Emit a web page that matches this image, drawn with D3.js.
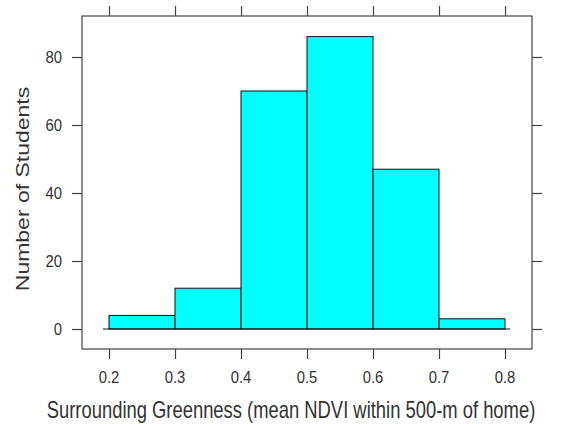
<!DOCTYPE html>
<html>
<head>
<meta charset="utf-8">
<script src="https://cdn.jsdelivr.net/npm/d3@7"></script>
<style>
  body { margin: 0; background: #fff; }
  svg text { font-family: "Liberation Sans", Arial, sans-serif; fill: #333; }
</style>
</head>
<body>
<svg id="chart" width="569" height="424"></svg>
<script>
// histogram bins and counts
var binStarts = [0.2, 0.3, 0.4, 0.5, 0.6, 0.7];
var binWidth = 0.1;
var counts = [4, 12, 70, 86, 47, 3];
var xTicks = [0.2, 0.3, 0.4, 0.5, 0.6, 0.7, 0.8];
var yTicks = [0, 20, 40, 60, 80];

var frame = {left: 82, top: 16, right: 532, bottom: 349};

var x = d3.scaleLinear().domain([0.2, 0.8]).range([109, 505]);
var y = d3.scaleLinear().domain([0, 80]).range([329, 57]);

var svg = d3.select("#chart");

// bars
svg.selectAll(".bar")
    .data(counts)
  .enter().append("rect")
    .attr("class", "bar")
    .attr("x", function(d, i) { return x(binStarts[i]); })
    .attr("y", function(d) { return y(d); })
    .attr("width", function(d, i) { return x(binStarts[i] + binWidth) - x(binStarts[i]); })
    .attr("height", function(d) { return y(0) - y(d); })
    .attr("fill", "#00ffff")
    .attr("stroke", "#111")
    .attr("stroke-width", 1);

// baseline under bars
svg.append("line")
    .attr("x1", x(0.2) - 6).attr("x2", x(0.8) + 5)
    .attr("y1", y(0)).attr("y2", y(0))
    .attr("stroke", "#111");

// panel box
svg.append("rect")
    .attr("x", frame.left).attr("y", frame.top)
    .attr("width", frame.right - frame.left)
    .attr("height", frame.bottom - frame.top)
    .attr("fill", "none")
    .attr("stroke", "#444")
    .attr("stroke-width", 1.2);

// tick marks on all four sides
var bottomAxis = d3.axisBottom(x).tickValues(xTicks).tickSize(10).tickFormat("");
var topAxis = d3.axisTop(x).tickValues(xTicks).tickSize(10).tickFormat("");
var leftAxis = d3.axisLeft(y).tickValues(yTicks).tickSize(10).tickFormat("");
var rightAxis = d3.axisRight(y).tickValues(yTicks).tickSize(10).tickFormat("");

function styleAxis(g) {
    g.select(".domain").remove();
    g.selectAll(".tick line").attr("stroke", "#444").attr("stroke-width", 1.2);
}

svg.append("g").attr("transform", "translate(0," + frame.bottom + ")").call(bottomAxis).call(styleAxis);
svg.append("g").attr("transform", "translate(0," + frame.top + ")").call(topAxis).call(styleAxis);
svg.append("g").attr("transform", "translate(" + frame.left + ",0)").call(leftAxis).call(styleAxis);
svg.append("g").attr("transform", "translate(" + frame.right + ",0)").call(rightAxis).call(styleAxis);

// tick labels (slightly condensed like the original)
var fmt = d3.format(".1f");
svg.selectAll(".xlab")
    .data(xTicks)
  .enter().append("text")
    .attr("class", "xlab")
    .attr("transform", function(d) { return "translate(" + x(d) + ",383) scale(0.9,1)"; })
    .attr("text-anchor", "middle")
    .style("font-size", "16.5px")
    .text(function(d) { return fmt(d); });

svg.selectAll(".ylab")
    .data(yTicks)
  .enter().append("text")
    .attr("class", "ylab")
    .attr("transform", function(d) { return "translate(62," + (y(d) + 6) + ") scale(0.9,1)"; })
    .attr("text-anchor", "end")
    .style("font-size", "16.5px")
    .text(function(d) { return d; });

// axis titles
svg.append("text")
    .attr("transform", "translate(291,418) scale(0.8,1)")
    .attr("text-anchor", "middle")
    .style("font-size", "23px")
    .text("Surrounding Greenness (mean NDVI within 500-m of home)");

svg.append("text")
    .attr("transform", "translate(29,189) rotate(-90) scale(1,0.8)")
    .attr("text-anchor", "middle")
    .style("font-size", "23px")
    .text("Number of Students");
</script>
</body>
</html>
